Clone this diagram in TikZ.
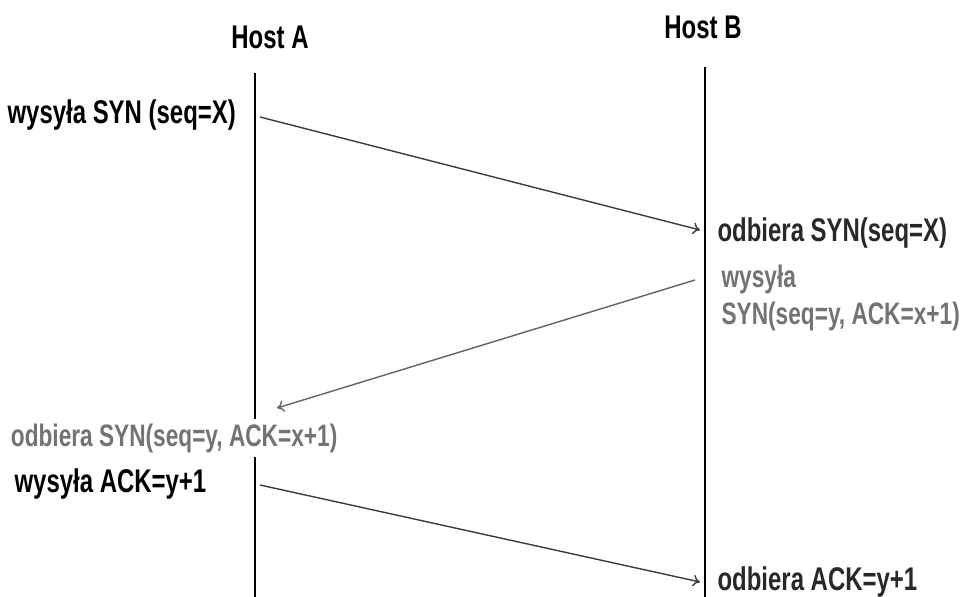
\documentclass[tikz,border=0pt]{standalone}
\usepackage{fontspec}
\setmainfont{Liberation Sans}[FakeStretch=0.73]
\usepackage{xcolor}
\usetikzlibrary{arrows.meta,positioning}
\definecolor{msgtext}{RGB}{40,40,40}
\definecolor{replytext}{RGB}{115,115,115}
\definecolor{msgline}{RGB}{60,60,60}
\definecolor{replyline}{RGB}{100,100,100}

\begin{document}
\begin{tikzpicture}[x=0.03cm,y=-0.03cm, >={To[length=6pt,width=10pt]}, every node/.style={font=\fontsize{28}{30}\selectfont\bfseries,inner sep=2pt}]
\useasboundingbox (0,0) rectangle (967,597);
% lifelines
\coordinate (topA) at (255,73); \coordinate (botA) at (255,597);
\coordinate (topB) at (705,67); \coordinate (botB) at (705,597);
\draw[line width=1.5pt](topA)--(botA); \draw[line width=1.5pt](topB)--(botB);
\node(hostA) at (270,37){Host A};
\node(hostB) at (703,27){Host B};
% texts
\node[anchor=west,text=black](synA) at (5,115){wysyła SYN (seq=X)};
\node[anchor=west,text=msgtext](synB) at (715,233){odbiera SYN(seq=X)};
\node[anchor=west,text=replytext,align=left,font=\fontsize{26.5}{30}\selectfont\bfseries](synackB) at (719,298){wysyła\\[2pt]SYN(seq=y, ACK=x+1)};
\node[anchor=west,text=replytext,fill=white,inner sep=4pt,font=\fontsize{26.5}{30}\selectfont\bfseries](synackA) at (6,438){odbiera SYN(seq=y, ACK=x+1)};
\node[anchor=west,text=black](ackA) at (12,484){wysyła ACK=y+1};
\node[anchor=west,text=msgtext](ackB) at (715,582){odbiera ACK=y+1};
% messages
\coordinate (a1) at (260,117); \coordinate (b1) at (700,230);
\coordinate (b2) at (695,280); \coordinate (a2) at (277,408);
\coordinate (a3) at (260,485); \coordinate (b3) at (700,582);
\draw[->,line width=1.2pt,msgline](a1)--(b1);
\draw[->,line width=1.2pt,replyline](b2)--(a2);
\draw[->,line width=1.2pt,msgline](a3)--(b3);
\end{tikzpicture}
\end{document}
